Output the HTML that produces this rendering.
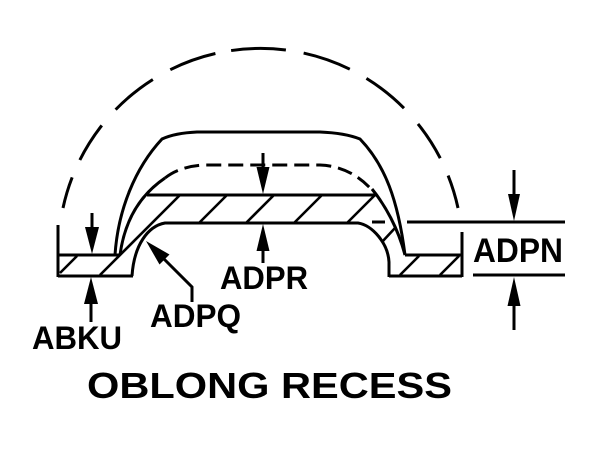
<!DOCTYPE html>
<html>
<head>
<meta charset="utf-8">
<style>
  html, body { margin: 0; padding: 0; background: #ffffff; }
  body { width: 600px; height: 450px; overflow: hidden; }
  svg { display: block; }
  text { font-family: "Liberation Sans", Arial, sans-serif; font-weight: bold; fill: #000; }
</style>
</head>
<body>
<svg width="600" height="450" viewBox="0 0 600 450" xmlns="http://www.w3.org/2000/svg">
  <rect width="600" height="450" fill="#fff"/>
  <g fill="none" stroke="#000" stroke-width="3" stroke-linejoin="round">
    <!-- outer dashed arc -->
    <path d="M63,208 A202,202 0 0 1 458,208" stroke-dasharray="32 19 41 21 48 20 48 16 55 18 49 19 48 21 41 19 40"/>

    <!-- outer solid profile -->
    <path d="M115,255 C118,210 135,168 162,139 Q175,133 197,132 L320,132 Q345,133 360,139 C385,165 398,200 405,255"/>

    <!-- inner profile: solid ends, dashed top -->
    <path d="M120,255 C124,225 137,197 165,178"/>
    <path d="M165,178 Q180,166 205,165 L320,165 Q350,166 372,190" stroke-dasharray="15 7"/>
    <path d="M372,189 C385,205 398,228 405,255"/>

    <!-- plate top -->
    <line x1="147" y1="195" x2="377" y2="195"/>

    <!-- left flange -->
    <line x1="58" y1="225" x2="58" y2="277"/>
    <line x1="58" y1="255" x2="120" y2="255"/>
    <line x1="58" y1="276" x2="133" y2="276"/>

    <!-- plate bottom / recess -->
    <path d="M132,276 C134,245 148,226 165,223 L358,223 C372,225 388,243 389,262 L389,277"/>

    <!-- right flange -->
    <line x1="405" y1="255" x2="462" y2="255"/>
    <line x1="389" y1="276" x2="462" y2="276"/>
    <line x1="462" y1="232" x2="462" y2="277"/>

    <!-- hidden line / extension line at right -->
    <line x1="372" y1="222" x2="385" y2="222"/>
    <line x1="407" y1="222" x2="565" y2="222"/>
    <line x1="473" y1="275" x2="565" y2="275"/>
  </g>

  <!-- hatching -->
  <g stroke="#000" stroke-width="2.6" fill="none">
    <line x1="60" y1="273" x2="77" y2="256"/>
    <line x1="100" y1="275" x2="180" y2="195"/>
    <line x1="199" y1="223" x2="227" y2="195"/>
    <line x1="246" y1="223" x2="274" y2="195"/>
    <line x1="294" y1="223" x2="322" y2="195"/>
    <line x1="347" y1="223" x2="375" y2="195"/>
    <line x1="382" y1="242" x2="395" y2="228"/>
    <line x1="400" y1="275" x2="419" y2="256"/>
    <line x1="440" y1="275" x2="459" y2="256"/>
  </g>

  <!-- dimension arrows -->
  <g stroke="#000" stroke-width="3" fill="none">
    <line x1="263" y1="153" x2="263" y2="170"/>
    <line x1="263" y1="248" x2="263" y2="263"/>
    <line x1="92" y1="213" x2="92" y2="230"/>
    <line x1="91" y1="300" x2="91" y2="322"/>
    <line x1="514" y1="170" x2="514" y2="197"/>
    <line x1="514" y1="302" x2="514" y2="330"/>
    <polyline points="164,259 192,287 192,302"/>
  </g>
  <g fill="#000" stroke="none">
    <polygon points="263,194 256.5,167 269.5,167"/>
    <polygon points="263,224 256.5,251 269.5,251"/>
    <polygon points="92,254 85,227 99,227"/>
    <polygon points="91,277 84,304 98,304"/>
    <polygon points="514,221 508,194 520,194"/>
    <polygon points="514,277 507.5,306 520.5,306"/>
    <polygon points="146,241 159.5,264.5 169.5,254.5"/>
  </g>

  <!-- labels -->
  <text x="473" y="262" font-size="34" textLength="90" lengthAdjust="spacingAndGlyphs">ADPN</text>
  <text x="220" y="289" font-size="32" textLength="88" lengthAdjust="spacingAndGlyphs">ADPR</text>
  <text x="150" y="327" font-size="32" textLength="91" lengthAdjust="spacingAndGlyphs">ADPQ</text>
  <text x="32" y="349" font-size="32" textLength="90" lengthAdjust="spacingAndGlyphs">ABKU</text>
  <text x="87" y="398" font-size="36" textLength="365" lengthAdjust="spacingAndGlyphs">OBLONG RECESS</text>
</svg>
</body>
</html>
